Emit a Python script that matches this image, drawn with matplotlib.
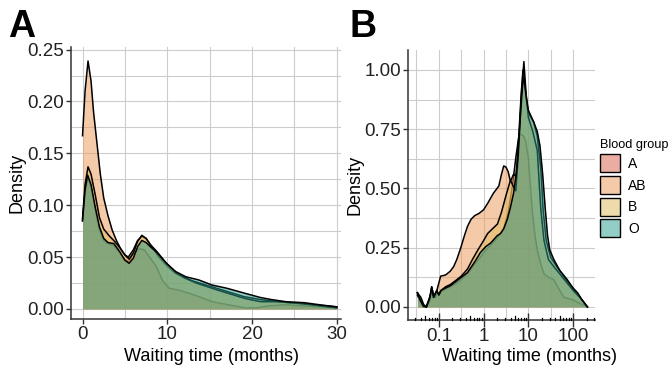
from matplotlib import pyplot as plt
from matplotlib import ticker
from matplotlib.colors import to_rgba
from matplotlib.patches import Patch
from matplotlib.transforms import blended_transform_factory

plt.rcParams['font.family'] = ['Liberation Sans', 'DejaVu Sans']

GROUPS = ['A', 'AB', 'B', 'O']
FILLS = {'A': '#D95D45', 'AB': '#EB9755', 'B': '#DFB959', 'O': '#279F8D'}
FILL_ALPHA = 0.5

# Panel A: density of waiting time (months)
A_MONTHS = [0, 0.3, 0.6, 1.0, 1.5, 2.0, 2.5, 3.0, 3.7, 4.4, 5.0, 5.5, 5.9, 6.7, 7.3, 7.9,
            8.7, 9.4, 10.2, 11.4, 12.6, 13.7, 15.3, 17.2, 19.2, 20.5, 22, 24, 26, 28, 30]
A_DENS = [0.085, 0.112, 0.127, 0.118, 0.096, 0.076, 0.066, 0.063, 0.061, 0.054, 0.047, 0.046,
          0.052, 0.058, 0.057, 0.050, 0.041, 0.028, 0.020, 0.018, 0.015, 0.012, 0.007, 0.004,
          0.001, 0.001, 0.003, 0.004, 0.003, 0.002, 0.001]

AB_MONTHS = [0, 0.3, 0.65, 1.0, 1.3, 1.7, 2.1, 2.5, 3.0, 3.5, 4.0, 4.5, 5.0, 5.4, 6.0, 6.5,
             7.0, 7.5, 8.0, 9.0, 10, 11, 13, 15, 17, 19, 21, 23, 26, 30]
AB_DENS = [0.167, 0.21, 0.239, 0.22, 0.19, 0.16, 0.13, 0.107, 0.09, 0.076, 0.066, 0.058,
           0.052, 0.05, 0.057, 0.066, 0.07, 0.068, 0.062, 0.05, 0.041, 0.034, 0.027, 0.022,
           0.017, 0.012, 0.009, 0.007, 0.005, 0.002]

B_MONTHS = [0, 0.3, 0.65, 1.0, 1.5, 2.0, 2.5, 3.2, 3.8, 4.4, 5.0, 5.5, 6.0, 6.5, 7.0, 7.5,
            8.0, 8.7, 9.9, 11, 12, 13.4, 16, 19.2, 21, 23, 26, 28, 30]
B_DENS = [0.087, 0.12, 0.137, 0.13, 0.11, 0.088, 0.077, 0.07, 0.065, 0.059, 0.052, 0.048,
          0.054, 0.065, 0.071, 0.068, 0.062, 0.056, 0.044, 0.035, 0.030, 0.025, 0.018, 0.010,
          0.007, 0.007, 0.005, 0.003, 0.001]

O_MONTHS = [0, 0.3, 0.6, 1.0, 1.5, 2.0, 2.5, 3.0, 3.7, 4.4, 5.0, 5.5, 6.0, 6.5, 7.0, 7.5,
            8.0, 8.7, 9.9, 11, 12.2, 13.7, 15.3, 17, 19.2, 21, 22.3, 24, 26.2, 28, 30]
O_DENS = [0.085, 0.115, 0.129, 0.12, 0.098, 0.079, 0.068, 0.064, 0.063, 0.055, 0.047, 0.044,
          0.049, 0.060, 0.066, 0.064, 0.060, 0.055, 0.044, 0.036, 0.031, 0.028, 0.023, 0.020,
          0.015, 0.011, 0.009, 0.007, 0.006, 0.004, 0.002]

# Panel B: density of log10(waiting time)
A_LOG = [-1.48, -1.42, -1.35, -1.28, -1.2, -1.16, -1.12, -1.05, -1.0, -0.95, -0.85, -0.74,
         -0.6, -0.5, -0.36, -0.2, -0.07, 0.05, 0.16, 0.3, 0.45, 0.55, 0.65, 0.72, 0.78, 0.82,
         0.9, 0.94, 1.0, 1.05, 1.09, 1.15, 1.2, 1.28, 1.35, 1.45, 1.57, 1.7, 1.8, 2.0, 2.15, 2.32]
A_LOG_DENS = [0.05, 0.025, 0.0, 0.0, 0.035, 0.07, 0.04, 0.06, 0.05, 0.065, 0.075, 0.085,
              0.1, 0.115, 0.14, 0.18, 0.21, 0.24, 0.26, 0.29, 0.33, 0.4, 0.52, 0.63, 0.71, 0.73,
              0.72, 0.70, 0.63, 0.5, 0.40, 0.3, 0.24, 0.18, 0.14, 0.125, 0.115, 0.07, 0.04, 0.03,
              0.015, 0.0]

AB_LOG = [-1.48, -1.40, -1.34, -1.27, -1.2, -1.16, -1.12, -1.08, -1.03, -0.96, -0.85, -0.75,
          -0.67, -0.6, -0.51, -0.43, -0.36, -0.28, -0.2, -0.1, 0.0, 0.1, 0.22, 0.34, 0.4, 0.45,
          0.5, 0.55, 0.6, 0.67, 0.73, 0.78, 0.84, 0.88, 0.95, 1.0, 1.12, 1.2, 1.28, 1.33, 1.4,
          1.5, 1.6, 1.75, 1.9, 2.05, 2.2, 2.32]
AB_LOG_DENS = [0.06, 0.04, 0.01, 0.0, 0.03, 0.085, 0.05, 0.04, 0.08, 0.13, 0.135, 0.15,
               0.17, 0.2, 0.25, 0.3, 0.34, 0.37, 0.385, 0.395, 0.41, 0.44, 0.48, 0.51, 0.56,
               0.595, 0.59, 0.57, 0.53, 0.56, 0.55, 0.7, 0.9, 1.0, 0.88, 0.82, 0.78, 0.72, 0.58,
               0.41, 0.28, 0.21, 0.18, 0.14, 0.1, 0.065, 0.03, 0.0]

B_LOG = [-1.48, -1.42, -1.35, -1.28, -1.2, -1.16, -1.12, -1.05, -1.0, -0.95, -0.85, -0.74,
         -0.6, -0.5, -0.36, -0.25, -0.13, 0.0, 0.09, 0.2, 0.31, 0.4, 0.5, 0.6, 0.66, 0.72,
         0.78, 0.84, 0.9, 0.95, 1.0, 1.1, 1.2, 1.25, 1.28, 1.35, 1.45, 1.57, 1.7, 1.87, 2.0,
         2.15, 2.32]
B_LOG_DENS = [0.06, 0.03, 0.005, 0.0, 0.045, 0.085, 0.045, 0.065, 0.055, 0.07, 0.085, 0.095,
              0.115, 0.13, 0.16, 0.2, 0.24, 0.28, 0.31, 0.33, 0.35, 0.4, 0.47, 0.535, 0.51,
              0.49, 0.65, 0.88, 1.035, 0.9, 0.8, 0.74, 0.66, 0.5, 0.41, 0.28, 0.2, 0.17, 0.14,
              0.1, 0.07, 0.04, 0.0]

O_LOG = [-1.48, -1.42, -1.35, -1.28, -1.2, -1.16, -1.12, -1.05, -1.0, -0.95, -0.85, -0.74,
         -0.6, -0.5, -0.36, -0.2, -0.07, 0.05, 0.16, 0.3, 0.38, 0.45, 0.53, 0.6, 0.67, 0.72,
         0.76, 0.82, 0.87, 0.9, 0.95, 1.0, 1.12, 1.2, 1.26, 1.32, 1.38, 1.43, 1.48, 1.57, 1.7,
         1.87, 2.0, 2.1, 2.2, 2.32]
O_LOG_DENS = [0.06, 0.03, 0.005, 0.0, 0.04, 0.08, 0.04, 0.07, 0.05, 0.07, 0.08, 0.09,
              0.11, 0.125, 0.145, 0.19, 0.23, 0.255, 0.27, 0.3, 0.31, 0.33, 0.37, 0.42, 0.48,
              0.55, 0.62, 0.8, 0.93, 0.97, 0.89, 0.83, 0.78, 0.74, 0.68, 0.56, 0.41, 0.3, 0.24,
              0.2, 0.155, 0.115, 0.08, 0.06, 0.03, 0.0]

LINEAR_SERIES = {'A': (A_MONTHS, A_DENS), 'AB': (AB_MONTHS, AB_DENS),
                 'B': (B_MONTHS, B_DENS), 'O': (O_MONTHS, O_DENS)}
LOG_SERIES = {'A': (A_LOG, A_LOG_DENS), 'AB': (AB_LOG, AB_LOG_DENS),
              'B': (B_LOG, B_LOG_DENS), 'O': (O_LOG, O_LOG_DENS)}

GRID_COLOR = '#cccccc'
AXIS_COLOR = '#333333'
TICK_SIZE = 13.5
TITLE_SIZE = 13


def draw_densities(ax, series, log_x=False):
  for i, group in enumerate(GROUPS):
    x, y = series[group]
    if log_x:
      x = [10 ** v for v in x]
    ax.fill_between(x, y, 0, color=FILLS[group], alpha=FILL_ALPHA, lw=0, zorder=2 + i)
    ax.plot(x, y, color='black', lw=1.1, zorder=2.5 + i)


def style_axes(ax):
  for side in ['top', 'right']:
    ax.spines[side].set_visible(False)
  for side in ['left', 'bottom']:
    ax.spines[side].set_color(AXIS_COLOR)
    ax.spines[side].set_linewidth(1.1)
  ax.set_axisbelow(True)
  ax.grid(True, which='both', color=GRID_COLOR, lw=0.8)
  ax.tick_params(which='major', labelsize=TICK_SIZE, color=AXIS_COLOR, labelcolor='#222222')
  ax.tick_params(which='minor', length=0)
  ax.set_ylabel('Density', fontsize=TITLE_SIZE)
  ax.set_xlabel('Waiting time (months)', fontsize=TITLE_SIZE)


fig = plt.figure(figsize=(6.72, 3.73), dpi=100)

# ---- Panel A
ax_a = fig.add_axes([71 / 672, 54 / 373, 270 / 672, 272 / 373])
draw_densities(ax_a, LINEAR_SERIES)
style_axes(ax_a)
ax_a.set_xlim(-1.36, 30.5)
ax_a.set_ylim(-0.0097, 0.2525)
ax_a.xaxis.set_major_locator(ticker.MultipleLocator(10))
ax_a.xaxis.set_minor_locator(ticker.MultipleLocator(5))
ax_a.yaxis.set_major_locator(ticker.MultipleLocator(0.05))
ax_a.yaxis.set_minor_locator(ticker.MultipleLocator(0.025))
ax_a.yaxis.set_major_formatter(ticker.FormatStrFormatter('%.2f'))
ax_a.tick_params(axis='both', which='major', direction='out', length=3.5, width=1.0, pad=1.5)
ax_a.xaxis.set_label_coords(0.52, -0.108)
ax_a.yaxis.set_label_coords(-0.17, 0.5)

# ---- Panel B
ax_b = fig.add_axes([408 / 672, 53 / 373, 187 / 672, 270 / 373])
draw_densities(ax_b, LOG_SERIES, log_x=True)
style_axes(ax_b)
ax_b.set_xscale('log')
ax_b.set_xlim(10 ** -1.69, 10 ** 2.49)
ax_b.set_ylim(-0.055, 1.084)
ax_b.xaxis.set_major_locator(ticker.FixedLocator([0.1, 1, 10, 100]))
ax_b.xaxis.set_major_formatter(ticker.FixedFormatter(['0.1', '1', '10', '100']))
ax_b.xaxis.set_minor_locator(ticker.FixedLocator([10 ** v for v in [-1.5, -0.5, 0.5, 1.5, 2.5]]))
ax_b.yaxis.set_major_locator(ticker.MultipleLocator(0.25))
ax_b.yaxis.set_minor_locator(ticker.MultipleLocator(0.125))
ax_b.yaxis.set_major_formatter(ticker.FormatStrFormatter('%.2f'))
ax_b.tick_params(axis='y', which='major', direction='out', length=3.5, width=1.0, pad=1.5)
ax_b.tick_params(axis='x', which='major', direction='inout', length=10, width=1.0, pad=0.5)
ax_b.xaxis.set_label_coords(0.652, -0.105)
ax_b.yaxis.set_label_coords(-0.24, 0.5)

# log ticks along the bottom, drawn inside the panel
tick_trans = blended_transform_factory(ax_b.transData, ax_b.transAxes)
for decade in [0.01, 0.1, 1, 10, 100]:
  for k in range(2, 10):
    pos = k * decade
    if pos < 10 ** -1.69 or pos > 10 ** 2.49:
      continue
    tick_len = 0.016 if k == 5 else 0.009
    ax_b.plot([pos, pos], [0, tick_len], transform=tick_trans, color='black',
              lw=0.9, clip_on=False, zorder=10)

# ---- Legend
handles = [Patch(facecolor=to_rgba(FILLS[g], FILL_ALPHA), edgecolor='black', lw=1.0, label=g)
           for g in GROUPS]
fig.legend(handles=handles, title='Blood group', loc='upper left',
           bbox_to_anchor=(590 / 672, 1 - 129 / 373), frameon=False, fontsize=10,
           title_fontsize=9.2, handlelength=1.45, handleheight=1.6, labelspacing=0.27,
           handletextpad=0.6, alignment='left', borderpad=0.2)

# ---- Panel tags
fig.text(8 / 672, 1 - 37 / 373, 'A', fontsize=27, fontweight='bold', va='baseline')
fig.text(349 / 672, 1 - 37 / 373, 'B', fontsize=27, fontweight='bold', va='baseline')

plt.savefig('out.png', dpi=100)
